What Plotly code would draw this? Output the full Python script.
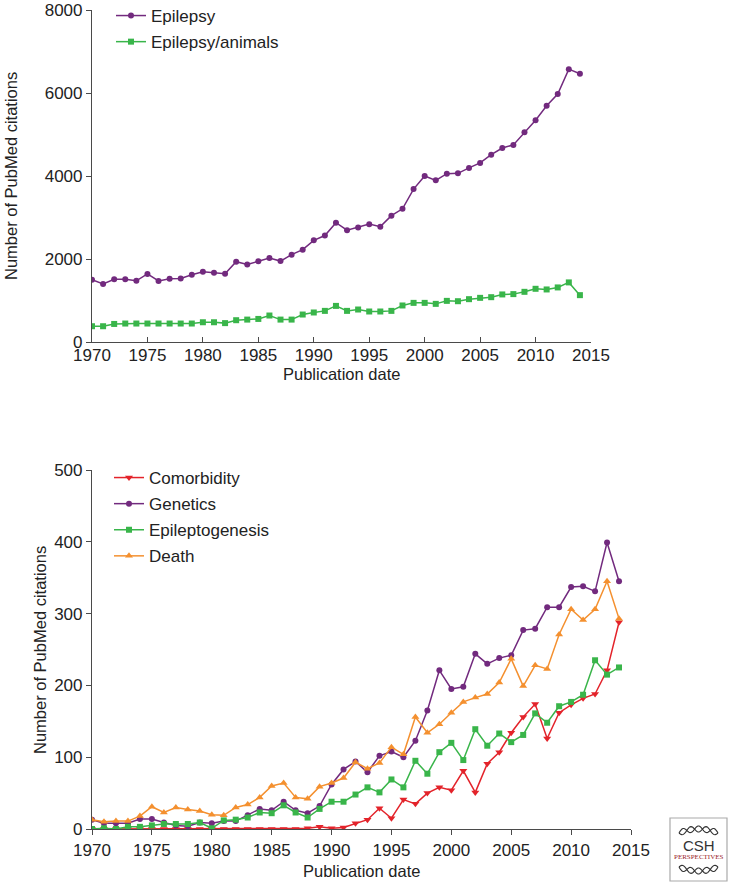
import numpy as np
import plotly.graph_objects as go

years = list(range(1970, 2015))

epilepsy = [1500, 1400, 1510, 1510, 1475, 1640, 1470, 1525, 1530, 1620,
            1690, 1670, 1645, 1935, 1870, 1945, 2025, 1950, 2105, 2225,
            2450, 2565, 2875, 2695, 2760, 2840, 2780, 3045, 3210, 3685,
            4000, 3895, 4055, 4065, 4195, 4315, 4515, 4675, 4750, 5055,
            5345, 5690, 5975, 6575, 6465]
epilepsy_animals = [380, 380, 435, 445, 445, 445, 445, 445, 445, 445,
                    476, 476, 455, 525, 540, 556, 638, 540, 540, 662,
                    711, 750, 870, 750, 783, 735, 735, 750, 880, 943,
                    943, 919, 991, 983, 1032, 1064, 1080, 1146, 1154, 1209,
                    1282, 1266, 1315, 1436, 1129]

comorbidity = [0, 0, 0, 0, 0, 0, 0, 0, 0, 0,
               0, 0, 0, 0, 0, 0, 0, 0, 1, 3,
               1, 2, 8, 13, 29, 15, 41, 35, 50, 58,
               54, 81, 51, 91, 107, 134, 156, 174, 126, 162,
               173, 182, 188, 221, 288]
genetics = [13, 8, 8, 8, 14, 14, 9, 5, 4, 9,
            8, 11, 11, 19, 28, 26, 38, 26, 22, 32,
            62, 83, 94, 79, 102, 108, 100, 123, 165, 221,
            195, 198, 244, 230, 238, 242, 277, 279, 309, 309,
            337, 338, 331, 399, 345]
epileptogenesis = [0, 1, 0, 3, 3, 5, 7, 7, 7, 9,
                   1, 12, 13, 16, 23, 22, 33, 23, 16, 28,
                   38, 38, 48, 58, 51, 69, 58, 95, 77, 107,
                   120, 96, 139, 116, 133, 121, 131, 161, 148, 171,
                   177, 187, 235, 215, 225]
death = [13, 10, 11, 11, 18, 31, 23, 30, 27, 25,
         20, 19, 30, 34, 44, 60, 64, 44, 42, 59,
         64, 71, 93, 84, 92, 114, 104, 156, 134, 146,
         162, 177, 183, 188, 204, 237, 199, 228, 223, 271,
         306, 291, 306, 345, 293]

x_ticks = [1970, 1975, 1980, 1985, 1990, 1995, 2000, 2005, 2010, 2015]
top_y_ticks = [0, 2000, 4000, 6000, 8000]
bottom_y_ticks = [0, 100, 200, 300, 400, 500]

PURPLE = "#722A7E"
GREEN = "#39B54A"
RED = "#E3232A"
ORANGE = "#F4902F"
AXIS = "#4a4a4a"
TEXT = "#222222"
FONT = "Liberation Sans, Arial, sans-serif"

W, H = 733, 884


def px(v):
    return v / W


def py(v):
    return 1 - v / H


fig = go.Figure()


def add(x, y, name, color, symbol, xa, ya, legend, size=6):
    fig.add_trace(go.Scatter(
        x=x, y=y, name=name, mode="lines+markers",
        line=dict(color=color, width=1.5),
        marker=dict(color=color, symbol=symbol, size=size),
        xaxis=xa, yaxis=ya, legend=legend, legendgroup=name))


add(years, epilepsy, "Epilepsy", PURPLE, "circle", "x", "y", "legend")
add(years, epilepsy_animals, "Epilepsy/animals", GREEN, "square", "x", "y", "legend")
add(years, comorbidity, "Comorbidity", RED, "triangle-down", "x2", "y2", "legend2", 7)
add(years, genetics, "Genetics", PURPLE, "circle", "x2", "y2", "legend2")
add(years, epileptogenesis, "Epileptogenesis", GREEN, "square", "x2", "y2", "legend2")
add(years, death, "Death", ORANGE, "triangle-up", "x2", "y2", "legend2", 7)

TICKFONT = dict(size=17, color=TEXT, family=FONT)


def axis(**kw):
    d = dict(showline=True, linecolor=AXIS, linewidth=1.2, ticks="outside",
             ticklen=5, tickcolor=AXIS, tickwidth=1.2, showgrid=False,
             zeroline=False, tickfont=TICKFONT, automargin=False)
    d.update(kw)
    return d


fig.update_layout(
    width=W, height=H, autosize=False,
    margin=dict(l=0, r=0, t=0, b=0, autoexpand=False),
    paper_bgcolor="white", plot_bgcolor="white",
    font=dict(family=FONT, color=TEXT, size=16),
    xaxis=axis(domain=[px(92), px(591)], range=[1970, 2015], tickvals=x_ticks,
               anchor="y", ticks="inside", ticklabelstandoff=-3),
    yaxis=axis(domain=[py(342), py(10)], range=[0, 8000], tickvals=top_y_ticks,
               anchor="x"),
    xaxis2=axis(domain=[px(92), px(631)], range=[1970, 2015], tickvals=x_ticks,
                anchor="y2"),
    yaxis2=axis(domain=[py(829), py(470)], range=[0, 500], tickvals=bottom_y_ticks,
                anchor="x2"),
    legend=dict(x=px(111), y=py(-2), xanchor="left", yanchor="top", bgcolor="rgba(0,0,0,0)",
                font=dict(size=17, color=TEXT, family=FONT), itemwidth=30, tracegroupgap=1),
    legend2=dict(x=px(109), y=py(460), xanchor="left", yanchor="top", bgcolor="rgba(0,0,0,0)",
                 font=dict(size=17, color=TEXT, family=FONT), itemwidth=30, tracegroupgap=1),
    showlegend=True,
)

# axis titles
TITLEFONT = dict(size=16.5, color=TEXT, family=FONT)


def label(text, x, y, angle=0):
    fig.add_annotation(text=text, xref="paper", yref="paper", x=px(x), y=py(y),
                       xanchor="center", yanchor="middle", showarrow=False,
                       textangle=angle, font=TITLEFONT)


label("Publication date", 341, 374)
label("Publication date", 361, 871)
label("Number of PubMed citations", 11, 176, -90)
label("Number of PubMed citations", 40, 650, -90)

# CSH Perspectives logo box
fig.add_shape(type="rect", xref="paper", yref="paper",
              x0=px(670), x1=px(727), y0=py(881), y1=py(818),
              line=dict(color="#aaaaaa", width=1.2), fillcolor="white")
fig.add_annotation(text="CSH", xref="paper", yref="paper", x=px(698.5), y=py(845),
                   xanchor="center", yanchor="middle",
                   showarrow=False, font=dict(size=15, color="#333333", family=FONT))
fig.add_annotation(text="PERSPECTIVES", xref="paper", yref="paper", x=px(698.5), y=py(857),
                   xanchor="center", yanchor="middle",
                   showarrow=False, font=dict(size=7, color="#9b1b1f", family="Liberation Serif, serif"))


def helix_path(cy, bend, phase):
    t = np.linspace(0, 1, 40)
    xs = 679 + 39 * t
    ys = cy + bend * (4 * (t - 0.5) ** 2 - 1) + 3 * np.sin(2 * np.pi * 2.5 * t + phase)
    pts = [f"{px(a):.5f},{py(b):.5f}" for a, b in zip(xs, ys)]
    return "M " + " L ".join(pts)


for cy, bend in ((833, 4), (867, -4)):
    for ph in (0, np.pi):
        fig.add_shape(type="path", xref="paper", yref="paper",
                      path=helix_path(cy, bend, ph),
                      line=dict(color="#333333", width=1.1))

fig.write_html("out.html", config={"displayModeBar": False},
               post_script="document.body.style.margin='0';document.body.style.overflow='hidden';")
